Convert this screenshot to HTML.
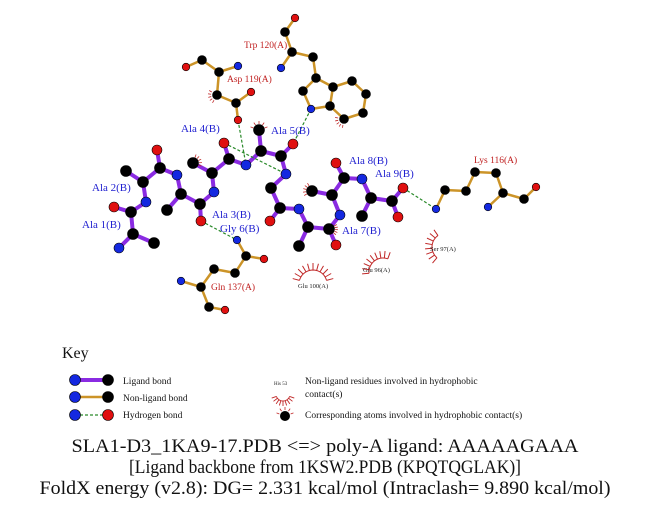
<!DOCTYPE html>
<html><head><meta charset="utf-8"><style>
html,body{margin:0;padding:0;background:#fff;}
svg{display:block;font-family:"Liberation Serif",serif;}
.lb{fill:#2020d0;font-size:11px;}
.rl{fill:#c02020;font-size:9.5px;}
.sm{fill:#222;font-size:6.5px;}
.kt{fill:#111;font-size:9.5px;}
</style></head><body>
<svg id="s" width="651" height="511" viewBox="0 0 651 511" xmlns="http://www.w3.org/2000/svg">
<g id="bonds"></g><g id="hb"></g><g id="lash"></g><g id="atoms"></g>
<text class="rl" x="244" y="48">Trp 120(A)</text>
<text class="rl" x="227" y="82">Asp 119(A)</text>
<text class="rl" x="474" y="163">Lys 116(A)</text>
<text class="rl" x="211" y="290">Gln 137(A)</text>
<text class="lb" x="181" y="132">Ala 4(B)</text>
<text class="lb" x="271" y="134">Ala 5(B)</text>
<text class="lb" x="92" y="191">Ala 2(B)</text>
<text class="lb" x="82" y="228">Ala 1(B)</text>
<text class="lb" x="212" y="218">Ala 3(B)</text>
<text class="lb" x="220" y="232">Gly 6(B)</text>
<text class="lb" x="349" y="164">Ala 8(B)</text>
<text class="lb" x="375" y="177">Ala 9(B)</text>
<text class="lb" x="342" y="234">Ala 7(B)</text>
<text class="sm" x="298" y="288">Glu 100(A)</text>
<text class="sm" x="363" y="272">Glu 96(A)</text>
<text class="sm" x="430" y="251">Ser 97(A)</text>
<text x="62" y="358" style="font-size:16px;fill:#111">Key</text>
<text class="kt" x="123" y="384">Ligand bond</text>
<text class="kt" x="123" y="401">Non-ligand bond</text>
<text class="kt" x="123" y="418">Hydrogen bond</text>
<text class="sm" x="274" y="385" style="font-size:5px">His 53</text>
<text class="kt" x="305" y="384">Non-ligand residues involved in hydrophobic</text>
<text class="kt" x="305" y="397">contact(s)</text>
<text class="kt" x="305" y="418">Corresponding atoms involved in hydrophobic contact(s)</text>
<text x="325" y="452" text-anchor="middle" style="font-size:18.5px;fill:#111" textLength="507" lengthAdjust="spacingAndGlyphs">SLA1-D3_1KA9-17.PDB &lt;=&gt; poly-A ligand: AAAAAGAAA</text>
<text x="325" y="473" text-anchor="middle" style="font-size:18.5px;fill:#111" textLength="392" lengthAdjust="spacingAndGlyphs">[Ligand backbone from 1KSW2.PDB (KPQTQGLAK)]</text>
<text x="325" y="494" text-anchor="middle" style="font-size:18.5px;fill:#111" textLength="571" lengthAdjust="spacingAndGlyphs">FoldX energy (v2.8): DG= 2.331 kcal/mol (Intraclash= 9.890 kcal/mol)</text>
</svg>
<script>
var NS="http://www.w3.org/2000/svg";
function el(p,t,a){var e=document.createElementNS(NS,t);for(var k in a)e.setAttribute(k,a[k]);document.getElementById(p).appendChild(e);return e;}
var col={C:"#000",N:"#1428e0",O:"#e01010"};
var A={
// Trp
tO:[295,18,'O'],tC:[285,32,'C'],tCA:[292,52,'C'],tN:[281,68,'N'],tCB:[313,57,'C'],tCG:[316,78,'C'],tCD1:[303,91,'C'],tNE1:[311,109,'N'],tCE2:[330,106,'C'],tCD2:[333,87,'C'],tCE3:[352,81,'C'],tCZ3:[366,94,'C'],tCH2:[363,113,'C'],tCZ2:[344,119,'C'],
// Asp
dO:[186,67,'O'],dC:[202,60,'C'],dCA:[219,72,'C'],dN:[238,66,'N'],dCB:[217,95,'C'],dCG:[236,103,'C'],dOD1:[251,92,'O'],dOD2:[238,120,'O'],
// ligand
N1:[119,248,'N'],CA1:[133,234,'C'],CB1:[154,243,'C'],C1:[131,212,'C'],O1:[114,207,'O'],
N2:[146,202,'N'],CA2:[143,182,'C'],CB2:[126,171,'C'],C2:[160,168,'C'],O2:[157,150,'O'],
N3:[177,175,'N'],CA3:[181,194,'C'],CB3:[167,210,'C'],C3:[200,204,'C'],O3:[201,221,'O'],
N4:[214,192,'N'],CA4:[212,173,'C'],CB4:[193,163,'C'],C4:[229,159,'C'],O4:[224,143,'O'],
N5:[246,165,'N'],CA5:[261,151,'C'],CB5:[259,130,'C'],C5:[281,156,'C'],O5:[293,144,'O'],
N6:[286,174,'N'],CA6:[271,188,'C'],C6:[280,208,'C'],O6:[270,221,'O'],
N7:[299,209,'N'],CA7:[308,227,'C'],CB7:[299,246,'C'],C7:[329,229,'C'],O7:[336,245,'O'],
N8:[340,215,'N'],CA8:[332,195,'C'],CB8:[312,191,'C'],C8:[344,178,'C'],O8:[336,163,'O'],
N9:[362,179,'N'],CA9:[371,198,'C'],CB9:[362,216,'C'],C9:[392,201,'C'],O9:[403,188,'O'],OX:[398,217,'O'],
// Lys
kNZ:[436,209,'N'],kCE:[445,190,'C'],kCD:[466,191,'C'],kCG:[475,172,'C'],kCB:[496,173,'C'],kCA:[503,193,'C'],kN:[488,207,'N'],kC:[524,199,'C'],kO:[536,187,'O'],
// Gln
gNE:[237,240,'N'],gCD:[246,256,'C'],gOE:[264,259,'O'],gCG:[235,273,'C'],gCB:[214,269,'C'],gCA:[201,287,'C'],gN:[181,281,'N'],gC:[209,307,'C'],gO:[225,310,'O']
};
var nl="tO-tC tC-tCA tCA-tN tCA-tCB tCB-tCG tCG-tCD1 tCD1-tNE1 tNE1-tCE2 tCE2-tCD2 tCD2-tCG tCD2-tCE3 tCE3-tCZ3 tCZ3-tCH2 tCH2-tCZ2 tCZ2-tCE2 dO-dC dC-dCA dCA-dN dCA-dCB dCB-dCG dCG-dOD1 dCG-dOD2 kNZ-kCE kCE-kCD kCD-kCG kCG-kCB kCB-kCA kCA-kN kCA-kC kC-kO gNE-gCD gCD-gOE gCD-gCG gCG-gCB gCB-gCA gCA-gN gCA-gC gC-gO".split(" ");
var lg="N1-CA1 CA1-CB1 CA1-C1 C1-O1 C1-N2 N2-CA2 CA2-CB2 CA2-C2 C2-O2 C2-N3 N3-CA3 CA3-CB3 CA3-C3 C3-O3 C3-N4 N4-CA4 CA4-CB4 CA4-C4 C4-O4 C4-N5 N5-CA5 CA5-CB5 CA5-C5 C5-O5 C5-N6 N6-CA6 CA6-C6 C6-O6 C6-N7 N7-CA7 CA7-CB7 CA7-C7 C7-O7 C7-N8 N8-CA8 CA8-CB8 CA8-C8 C8-O8 C8-N9 N9-CA9 CA9-CB9 CA9-C9 C9-O9 C9-OX".split(" ");
function bond(s,c,w){var p=s.split("-"),a=A[p[0]],b=A[p[1]];el("bonds","line",{x1:a[0],y1:a[1],x2:b[0],y2:b[1],stroke:c,"stroke-width":w,"stroke-linecap":"round"});}
nl.forEach(function(s){bond(s,"#cc9428",2.5)});
lg.forEach(function(s){bond(s,"#8a2be2",4)});
[["dOD2","N5"],["O4","N6"],["tNE1","O5"],["O3","gNE"],["O9","kNZ"]].forEach(function(h){var a=A[h[0]],b=A[h[1]];el("hb","line",{x1:a[0],y1:a[1],x2:b[0],y2:b[1],stroke:"#2a8a2a","stroke-width":1.2,"stroke-dasharray":"3,2"});});
for(var k in A){var a=A[k];var lig=!/^[tdkg]/.test(k);var r=lig?(a[2]=='C'?5.5:5):(a[2]=='C'?4.5:3.8);el("atoms","circle",{cx:a[0],cy:a[1],r:r,fill:col[a[2]],stroke:"#000","stroke-width":0.6});}
function arc(cx,cy,r1,r2,a0,a1,n,w){for(var i=0;i<n;i++){var t=(a0+(a1-a0)*i/(n-1))*Math.PI/180;el("lash","line",{x1:cx+r1*Math.cos(t),y1:cy+r1*Math.sin(t),x2:cx+r2*Math.cos(t),y2:cy+r2*Math.sin(t),stroke:"#c02828","stroke-width":w||1});}
var p="";for(var j=0;j<=20;j++){var t=(a0+(a1-a0)*j/20)*Math.PI/180;p+=(j?"L":"M")+(cx+r1*Math.cos(t))+" "+(cy+r1*Math.sin(t));}el("lash","path",{d:p,fill:"none",stroke:"#c02828","stroke-width":w||1});}
arc(313,284,14,21,195,345,11);
arc(383,272,14,21,175,290,9);
arc(446,247,14,21,130,235,8);
arc(283,394,7,12,20,160,9,0.9);
function small(k,a0,a1){var a=A[k];for(var i=0;i<5;i++){var t=(a0+(a1-a0)*i/4)*Math.PI/180;el("lash","line",{x1:a[0]+6*Math.cos(t),y1:a[1]+6*Math.sin(t),x2:a[0]+9*Math.cos(t),y2:a[1]+9*Math.sin(t),stroke:"#c02828","stroke-width":0.8});}}
small("CB5",200,340);small("CB4",-70,20);small("CB8",150,240);small("C7",-30,40);small("dCB",120,210);small("tCZ2",100,190);
// legend
[[380,"#8a2be2",4,"N","C"],[397,"#cc9428",2.5,"N","C"]].forEach(function(r){el("bonds","line",{x1:75,y1:r[0],x2:108,y2:r[0],stroke:r[1],"stroke-width":r[2]});});
el("hb","line",{x1:75,y1:415,x2:108,y2:415,stroke:"#2a8a2a","stroke-width":1.2,"stroke-dasharray":"3,2"});
[[75,380,"N"],[108,380,"C"],[75,397,"N"],[108,397,"C"],[75,415,"N"],[108,415,"O"]].forEach(function(c){el("atoms","circle",{cx:c[0],cy:c[1],r:5.5,fill:col[c[2]],stroke:"#000","stroke-width":0.6});});
el("atoms","circle",{cx:285,cy:416,r:5,fill:"#000"});
for(var i=0;i<5;i++){var t=(200+35*i)*Math.PI/180;el("lash","line",{x1:285+6*Math.cos(t),y1:416+6*Math.sin(t),x2:285+9*Math.cos(t),y2:416+9*Math.sin(t),stroke:"#c02828","stroke-width":0.8});}
</script>
</body></html>
